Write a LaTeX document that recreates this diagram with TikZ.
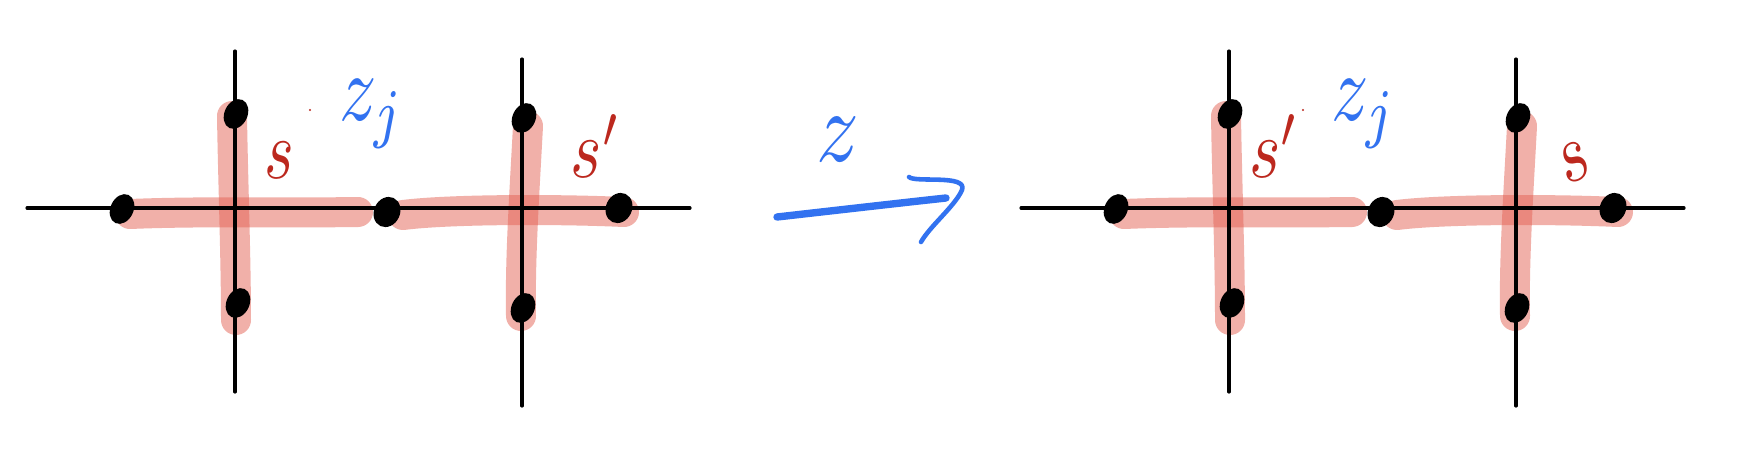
\documentclass[tikz,border=0pt]{standalone}
\usetikzlibrary{shapes.geometric}
\definecolor{hlred}{RGB}{228,98,84}
\definecolor{inkred}{RGB}{188,40,30}
\definecolor{inkblue}{RGB}{50,114,240}
\tikzset{
  axisline/.style={line width=1.8pt, line cap=round},
  hl/.style={draw=hlred, draw opacity=0.5, line width=0.6cm, line cap=round},
  dotnode/.style={ellipse, fill=black, minimum width=0.46cm, minimum height=0.62cm, inner sep=0pt, rotate=-25},
  redlbl/.style={text=inkred, inner sep=0pt},
  bluelbl/.style={text=inkblue, inner sep=0pt},
  bluepen/.style={draw=inkblue, line cap=round, line join=round},
}
\newcommand{\panelbase}[1]{%
  \coordinate (#1hA) at (27,208);  \coordinate (#1hB) at (690,208);
  \coordinate (#1vA) at (235,51);  \coordinate (#1vB) at (235,392);
  \coordinate (#1wA) at (522,59);  \coordinate (#1wB) at (522,406);
  % highlight strokes
  \draw[hl] (130,214) .. controls (200,211) and (300,213) .. (358,212);
  \draw[hl] (403,215) .. controls (450,209) and (560,209) .. (624,212);
  \draw[hl] (232,116) .. controls (233,180) and (236,260) .. (236,320);
  \draw[hl] (528,126) .. controls (524,200) and (520,260) .. (521,316);
  % axes
  \draw[axisline] (#1hA) -- (#1hB);
  \draw[axisline] (#1vA) -- (#1vB);
  \draw[axisline] (#1wA) -- (#1wB);
  % dots
  \node[dotnode] (#1d1) at (122,209) {};
  \node[dotnode] (#1d2) at (236,114) {};
  \node[dotnode] (#1d3) at (238,303) {};
  \node[dotnode, minimum width=0.52cm] (#1d4) at (387,212) {};
  \node[dotnode] (#1d5) at (524,118) {};
  \node[dotnode] (#1d6) at (523,308) {};
  \node[dotnode, minimum width=0.52cm] (#1d7) at (619,208) {};
}
\begin{document}
\begin{tikzpicture}[x=0.02cm,y=-0.02cm]
\useasboundingbox (0,0) rectangle (1754,474);
\fill[white] (0,0) rectangle (1754,474);

% left panel
\begin{scope}
  \panelbase{L}
  \node[redlbl] (Ls) at (279,160) {\scalebox{3.6}[4.8]{$s$}};
  \node[bluelbl] (Lz) at (372,114) {\scalebox{4.2}[5.4]{$z_j$}};
  \node[redlbl] (Lsp) at (596,146) {\scalebox{3.8}[4.8]{$s'$}};
  \fill[inkred] (310,110) circle (1.2);
\end{scope}

% transformation arrow
\coordinate (aS) at (777,217);
\coordinate (aE) at (946,198);
\coordinate (hS) at (909,177);
\coordinate (hE) at (921,242);
\draw[bluepen, line width=4.2pt] (aS) .. controls (830,211) and (900,203) .. (aE);
\draw[bluepen, line width=2.6pt] (hS) .. controls (915,183) and (968,174) .. (962,190)
      .. controls (955,206) and (930,226) .. (hE);
\node[bluelbl] (Tz) at (838,140) {\scalebox{4.8}[5.8]{$z$}};

% right panel
\begin{scope}[shift={(994,0)}]
  \panelbase{R}
  \node[redlbl] (Rsp) at (280,146) {\scalebox{3.8}[4.8]{$s'$}};
  \node[bluelbl] (Rz) at (370,114) {\scalebox{4.2}[5.4]{$z_j$}};
  \node[redlbl, rotate=25] (Rs) at (580,162) {\scalebox{3.8}[4.8]{$s$}};
  \fill[inkred] (309,110) circle (1.2);
\end{scope}
\end{tikzpicture}
\end{document}
